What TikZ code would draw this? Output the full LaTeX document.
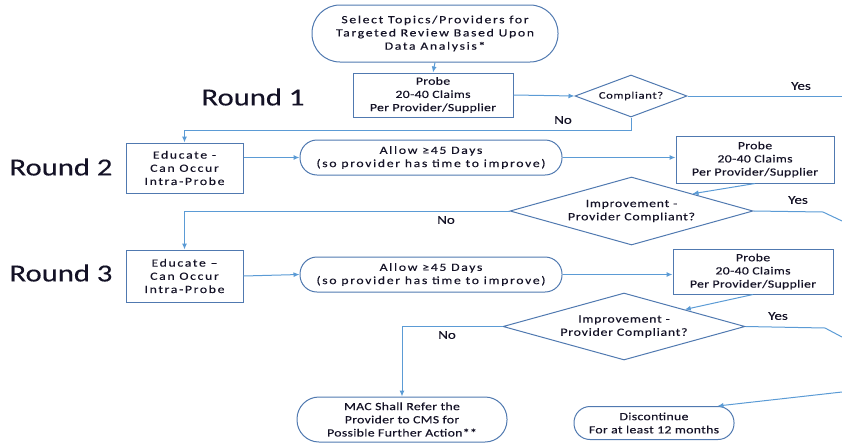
\documentclass[tikz,border=0pt]{standalone}
\usepackage{fontspec}
\setmainfont{Carlito}[FakeStretch=1.25, FakeBold=0.3]
\newfontfamily\lsA{Carlito}[FakeStretch=1.25, LetterSpace=15, FakeBold=0.3]
\newfontfamily\lsB{Carlito}[FakeStretch=1.25, LetterSpace=7, FakeBold=0.3]
\newfontfamily\lsC{Carlito}[FakeStretch=1.25, LetterSpace=3, FakeBold=0.3]
\usetikzlibrary{shapes.geometric,arrows.meta}
\definecolor{edge}{HTML}{5079B0}
\definecolor{conn}{HTML}{5B9BD5}
\definecolor{txt}{HTML}{141226}
\tikzset{
  every node/.style={text=txt},
  fA/.style={font=\lsA\fontsize{11}{13.2}\selectfont},
  fB/.style={font=\lsB\fontsize{11}{13.2}\selectfont},
  fC/.style={font=\lsC\fontsize{11}{13.2}\selectfont},
  stadium/.style={draw=edge, line width=1pt, rounded corners=#1, align=center, inner sep=0pt},
  stepbox/.style={draw=edge, line width=1pt, rectangle, align=center, inner sep=0pt},
  decide/.style={draw=edge, line width=1pt, diamond, align=center, inner sep=0pt},
  link/.style={draw=conn, line width=1pt},
  arr/.style={link, -{Latex[length=6pt,width=5pt]}},
  roundlbl/.style={font=\fontsize{24.5}{26}\selectfont},
  yn/.style={font=\fontsize{12}{14}\selectfont},
}
\begin{document}
\begin{tikzpicture}[x=1pt,y=-1pt]
\useasboundingbox (0,0) rectangle (842,442);
% nodes
\node[stadium=28pt, fA, minimum width=246pt, minimum height=57pt] (top) at (435,33.5) {Select Topics/Providers for\\Targeted Review Based Upon\\Data Analysis*};
\node[stepbox, fC, minimum width=160pt, minimum height=44pt] (p1) at (433,95) {Probe\\20-40 Claims\\Per Provider/Supplier};
\node[decide, aspect=2.67, minimum width=112pt, minimum height=42pt, font=\lsB\fontsize{10}{12}\selectfont] (d1) at (631,96) {Compliant?};
\node[stepbox, fA, minimum width=117pt, minimum height=50pt] (e2) at (184.5,168) {Educate -\\Can Occur\\Intra-Probe};
\node[stadium=17pt, fA, minimum width=262pt, minimum height=35pt] (a2) at (431,157.5) {Allow ≥45 Days\\(so provider has time to improve)};
\node[stepbox, fC, minimum width=158pt, minimum height=47pt] (p2) at (755,159.5) {Probe\\20-40 Claims\\Per Provider/Supplier};
\node[decide, fB, aspect=3.57, minimum width=243pt, minimum height=68pt] (d2) at (631.5,211) {Improvement -\\Provider Compliant?};
\node[stepbox, fA, minimum width=117pt, minimum height=52pt] (e3) at (184.5,276) {Educate –\\Can Occur\\Intra-Probe};
\node[stadium=17pt, fA, minimum width=262pt, minimum height=35pt] (a3) at (431,274.5) {Allow ≥45 Days\\(so provider has time to improve)};
\node[stepbox, fC, minimum width=160pt, minimum height=45pt] (p3) at (753,271.5) {Probe\\20-40 Claims\\Per Provider/Supplier};
\node[decide, fB, aspect=3.61, minimum width=242pt, minimum height=67pt] (d3) at (624,326.5) {Improvement -\\Provider Compliant?};
\node[stadium=22pt, fC, minimum width=210pt, minimum height=45pt] (mac) at (402,419.5) {MAC Shall Refer the\\Provider to CMS for\\Possible Further Action**};
\node[stadium=16pt, fC, minimum width=160pt, minimum height=33pt] (disc) at (654,423) {Discontinue\\For at least 12 months};
% labels
\node[roundlbl] (r1) at (253,97) {Round 1};
\node[roundlbl] (r2) at (61,167) {Round 2};
\node[roundlbl] (r3) at (61,273) {Round 3};
\node[yn] (y1) at (801,86) {Yes};
\node[yn] (y2) at (798,200) {Yes};
\node[yn] (y3) at (778,316) {Yes};
\node[yn] (n1) at (563,120) {No};
\node[yn] (n2) at (446,220) {No};
\node[yn] (n3) at (447,335) {No};
% coordinates
\coordinate (c1) at (842,96);
\coordinate (c2a) at (823,212);
\coordinate (c2b) at (842,221);
\coordinate (c3a) at (825,328);
\coordinate (c3b) at (842,337);
\coordinate (c4) at (842,392);
\coordinate (k1) at (184.5,130);
% connectors
\draw[arr] (top.south) -- (p1.north);
\draw[arr] (p1.east) -- (d1.west);
\draw[link] (d1.east) -- (c1);
\draw[arr] (d1.south) |- (k1) -- (e2.north);
\draw[arr] (e2.east |- a2.west) -- (a2.west);
\draw[arr] (a2.east) -- (a2.east -| p2.west);
\draw[arr] (p2.south) -- (d2.north east);
\draw[link] (d2.east) -- (c2a) -- (c2b);
\draw[arr] (d2.west) -| (e3.north);
\draw[arr] (e3.east) -- (a3.west);
\draw[arr] (a3.east) -- (a3.east -| p3.west);
\draw[arr] (p3.south) -- (d3.north east);
\draw[link] (d3.east) -- (c3a) -- (c3b);
\draw[arr] (d3.west) -| (mac.north);
\draw[arr] (c4) -- (disc.15);
\end{tikzpicture}
\end{document}
